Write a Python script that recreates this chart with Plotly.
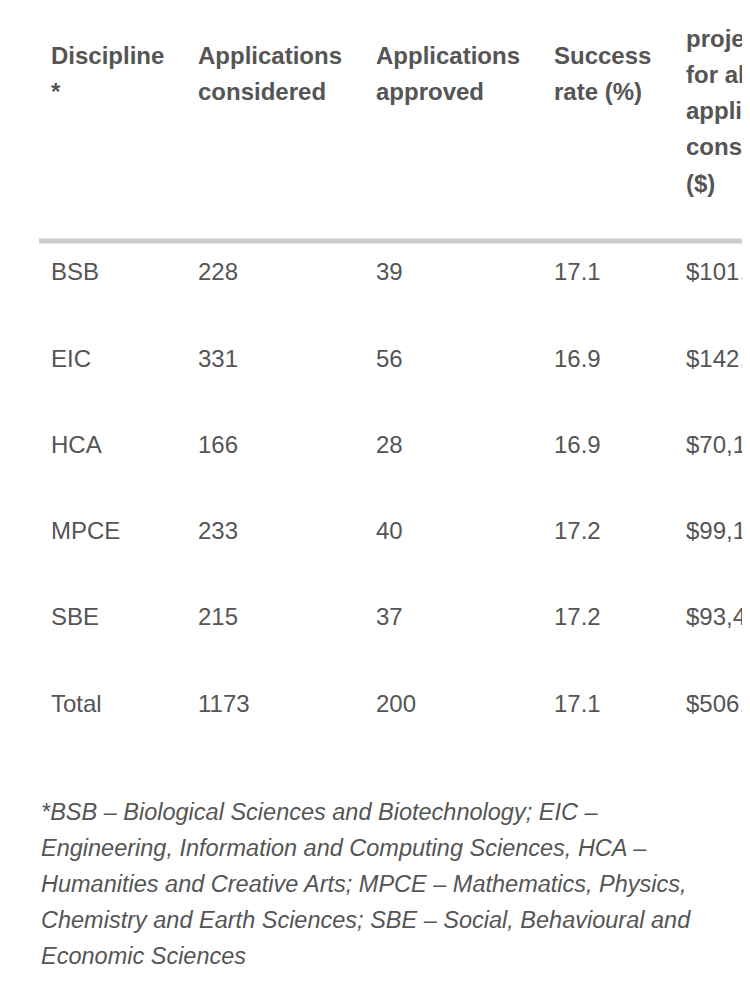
import plotly.graph_objects as go

headers = [["Discipline", "*"], ["Applications", "considered"], ["Applications", "approved"],
           ["Success", "rate (%)"], ["funds", "projected", "for all", "applications", "considered", "($)"]]
disciplines = ["BSB", "EIC", "HCA", "MPCE", "SBE", "Total"]
considered = [228, 331, 166, 233, 215, 1173]
approved = [39, 56, 28, 40, 37, 200]
success = ["17.1", "16.9", "16.9", "17.2", "17.2", "17.1"]
funds = ["$101,0", "$142,7", "$70,19", "$99,11", "$93,49", "$506,6"]
footnote = ["*BSB – Biological Sciences and Biotechnology; EIC –",
            "Engineering, Information and Computing Sciences, HCA –",
            "Humanities and Creative Arts; MPCE – Mathematics, Physics,",
            "Chemistry and Earth Sciences; SBE – Social, Behavioural and",
            "Economic Sciences"]

col_x = [50, 197, 375, 553, 685]
row_y = [271, 358, 444, 530, 616, 703]
FONT = "Liberation Sans, Arial, sans-serif"
COL = "#555555"

fig = go.Figure()
ann = []
for i, h in enumerate(headers):
    y0 = 2 if len(h) > 2 else 55
    for j, line in enumerate(h):
        ann.append(dict(x=col_x[i], y=y0 + j * 36.2, text=f"<b>{line}</b>", showarrow=False,
                        xanchor="left", yanchor="middle", font=dict(family=FONT, size=24, color=COL)))
cols = [disciplines, [str(v) for v in considered], [str(v) for v in approved], success, funds]
for i, c in enumerate(cols):
    for r, v in enumerate(c):
        ann.append(dict(x=col_x[i], y=row_y[r], text=v, showarrow=False, xanchor="left",
                        yanchor="middle", font=dict(family=FONT, size=24, color=COL)))
for k, line in enumerate(footnote):
    ann.append(dict(x=40, y=812 + k * 36, text=f"<i>{line}</i>", showarrow=False, xanchor="left",
                    yanchor="middle", font=dict(family=FONT, size=23.5, color=COL)))

fig.update_layout(
    width=750, height=998, margin=dict(l=0, r=0, t=0, b=0),
    paper_bgcolor="white", plot_bgcolor="white",
    xaxis=dict(range=[9, 759], visible=False, fixedrange=True),
    yaxis=dict(range=[1006, 8], visible=False, fixedrange=True),
    annotations=ann,
    shapes=[dict(type="line", x0=40, x1=770, y0=241, y1=241, xref="x", yref="y",
                 line=dict(color="#cccccc", width=5))],
    showlegend=False,
)
fig.write_html("out.html")
